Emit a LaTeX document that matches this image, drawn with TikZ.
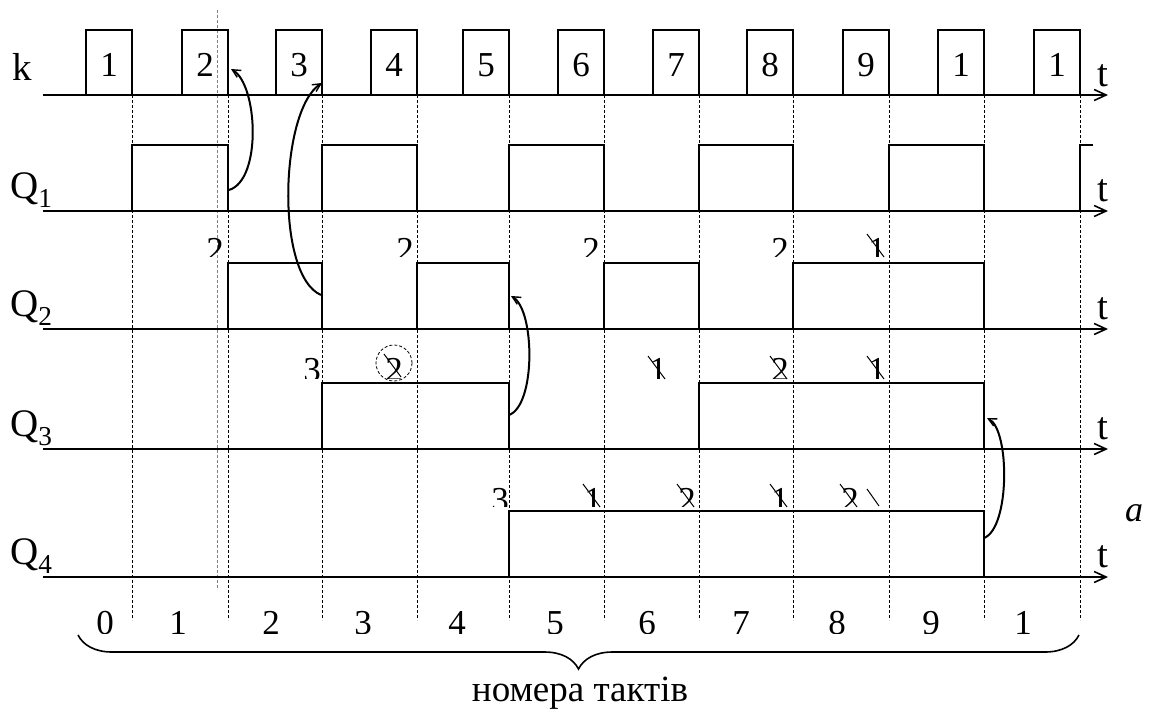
\documentclass[tikz,border=0pt]{standalone}
\usepackage{fontspec}
\setmainfont{Liberation Serif}
\usetikzlibrary{
    arrows.meta,
    positioning,
    decorations.pathreplacing
}

\begin{document}
\begin{tikzpicture}[x=1pt,y=-1pt,
    sig/.style={line width=2.4pt,line join=miter},
    axis/.style={line width=2.4pt,-{Straight Barb[length=12pt,width=11pt,line width=1.6pt]}},
    tact/.style={line width=0.8pt,dash pattern=on 3pt off 2pt},
    cause/.style={line width=2pt,-{Straight Barb[length=8pt,width=8pt,line width=1.4pt]}},
    lbl/.style={font=\fontsize{39}{42}\selectfont,inner sep=0pt,anchor=base},
    num/.style={font=\fontsize{35}{38}\selectfont,inner sep=0pt,anchor=base},
    cross/.style={line width=1pt}]
  \useasboundingbox (0,0) rectangle (1151,715);
  \def\pw{46}
  % tact boundaries
  \foreach \f in {132,228,322,417,509,604,699,793,889,984,1080}
     \draw[tact] (\f,95) -- (\f,620);
  \draw[tact,gray] (217,10) -- (217,590);
  % clock k
  \draw[axis] (43,95) -- (1108,95);
  \node[lbl,anchor=base west] (klab) at (12,80) {k};
  \node[lbl] (kt) at (1103,86) {t};
  \foreach \f/\n [count=\i] in {132/1,228/2,322/3,417/4,509/5,604/6,699/7,793/8,889/9,984/1,1080/1}
     {\draw[sig] (\f-\pw,95) -- (\f-\pw,30) -- (\f,30) -- (\f,95);
      \node[num] (kn\i) at (\f-\pw/2,76) {\n};}
  % axes of the flip-flops
  \foreach \y/\r in {211/1,329/2,449/3,577/4}
     {\draw[axis] (43,\y) -- (1108,\y);
      \node[lbl] (t\r) at (1103,\y-10) {t};
      \node[lbl,anchor=base west] (q\r) at (10,\y-13) {Q\textsubscript{\r}};}
  % Q1
  \foreach \a/\b in {132/228,322/417,509/604,699/793,889/984}
     \draw[sig] (\a,211) |- (\b,145) -- (\b,211);
  \draw[sig] (1080,211) |- (1093,145);
  % Q2
  \foreach \a/\b in {228/322,417/509,604/699,793/984}
     \draw[sig] (\a,329) |- (\b,263) -- (\b,329);
  % Q3
  \foreach \a/\b in {322/509,699/984}
     \draw[sig] (\a,449) |- (\b,383) -- (\b,449);
  % Q4
  \draw[sig] (509,577) |- (984,511) -- (984,577);
  % cut digits over the rows
  \begin{scope}
    \clip (190,225) rectangle (900,256);
    \foreach \x/\d in {215/2,405/2,591/2,780/2,877/1}
       \node[num] (a\x) at (\x,261) {\d};
  \end{scope}
  \begin{scope}
    \clip (290,340) rectangle (900,378);
    \foreach \x/\d in {312/3,394/2,658/1,780/2,877/1}
       \node[num] (b\x) at (\x,381) {\d};
  \end{scope}
  \begin{scope}
    \clip (480,470) rectangle (900,506);
    \foreach \x/\d in {500/3,593/1,687/2,780/1,850/2}
       \node[num] (c\x) at (\x,511) {\d};
  \end{scope}
  \foreach \x/\y in {877/234,394/354,658/356,780/356,877/356,593/484,687/484,780/484,850/484}
     \draw[cross] (\x-10,\y) -- (\x+7,\y+23);
  \draw[cross] (867,489) -- (879,506);
  \draw[tact] (394,363) circle (18);
  % cause arrows
  \coordinate (q1d) at (229,190);
  \coordinate (kd2) at (231,69);
  \coordinate (q2d) at (321,295);
  \coordinate (kd3) at (322,83);
  \coordinate (q3d) at (509,415);
  \coordinate (q2u) at (511,296);
  \coordinate (q4d) at (984,538);
  \coordinate (q3u) at (987,418);
  \draw[cause] (q1d) .. controls +(33,-10) and +(27,16) .. (kd2);
  \draw[cause] (q2d) .. controls +(-46,-20) and +(-42,27) .. (kd3);
  \draw[cause] (q3d) .. controls +(27,-10) and +(24,14) .. (q2u);
  \draw[cause] (q4d) .. controls +(26,-10) and +(23,12) .. (q3u);
  % tact numbers
  \begin{scope}
    \clip (60,600) rectangle (1100,633);
    \foreach \x/\n in {105/0,178/1,271/2,363/3,457/4,555/5,647/6,741/7,837/8,931/9,1023/1}
       \node[num] (nb\x) at (\x,634) {\n};
  \end{scope}
  \coordinate (bl) at (78,635);
  \coordinate (br) at (1079,635);
  \draw[line width=1.6pt,decorate,decoration={brace,mirror,amplitude=34pt}] (bl) -- (br);
  \node[lbl,font=\fontsize{37}{40}\selectfont] (cap) at (580,701) {номера тактів};
  \node[lbl,font=\fontsize{36}{40}\selectfont\itshape] (alab) at (1134,521) {a};
\end{tikzpicture}
\end{document}
